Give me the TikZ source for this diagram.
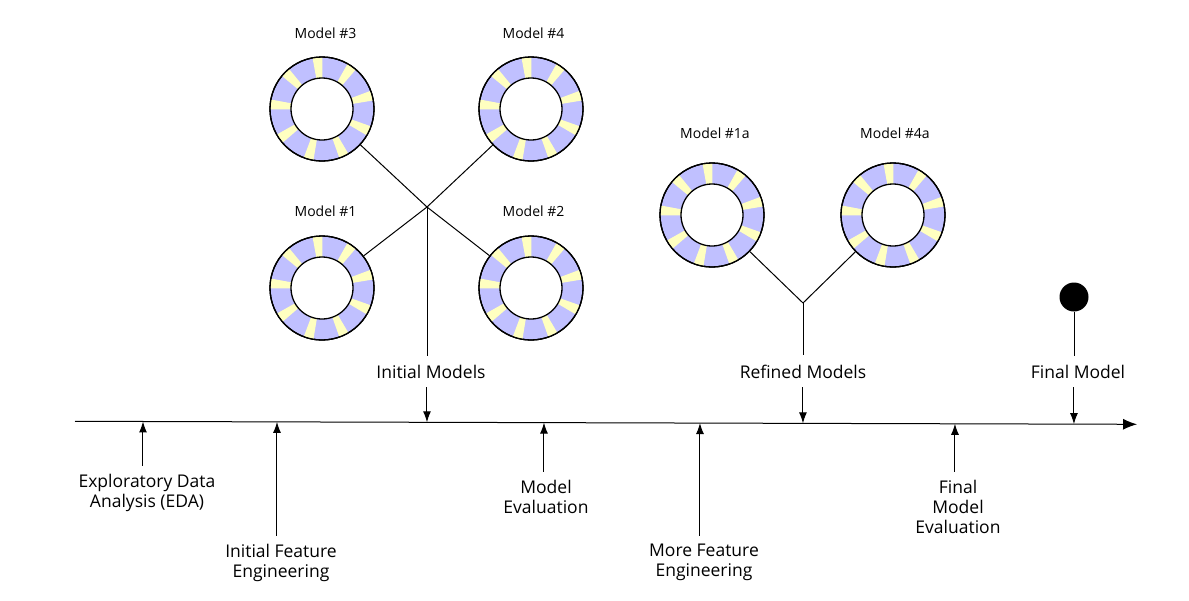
\documentclass[tikz,border=0pt]{standalone}
\usepackage{fontspec}
\setmainfont{Open Sans}
\usetikzlibrary{arrows.meta,calc}
\definecolor{ringblue}{RGB}{192,192,255}
\definecolor{ringyellow}{RGB}{255,255,192}
\tikzset{
  ringnode/.style={circle,draw,line width=1.3pt,fill=ringblue,minimum size=104pt,inner sep=0pt},
  modellabel/.style={font=\fontsize{14}{17}\selectfont,anchor=base,inner sep=0pt},
  midlabel/.style={font=\fontsize{17.5}{20}\selectfont,anchor=base,inner xsep=0pt,inner ysep=9pt},
  steplabel/.style={font=\fontsize{17.5}{20}\selectfont,align=center,anchor=north,inner xsep=0pt,inner ysep=8.5pt},
  conn/.style={line width=1pt},
  arr/.style={line width=1pt,-{Latex[length=11pt,width=8pt]}},
  axisarr/.style={line width=1pt,-{Latex[length=14pt,width=11pt]}},
}
\newcommand\drawring[2]{%
  \node[ringnode] (#1) at (#2) {};
  \begin{scope}[shift={(#2)}]
    \foreach \a in {95,55,15,-25,-65,-105,-145,175,135}{
      \fill[ringyellow] ({\a-5.5}:31) arc[start angle={\a-5.5},end angle={\a+5.5},radius=31]
        -- ({\a+5.5}:51.5) arc[start angle={\a+5.5},end angle={\a-5.5},radius=51.5] -- cycle;
    }
    \draw[line width=1.3pt] (0,0) circle[radius=52];
    \draw[line width=1.3pt,fill=white] (0,0) circle[radius=31];
  \end{scope}
}
\begin{document}
\begin{tikzpicture}[x=1pt,y=1pt]
\useasboundingbox (0,0) rectangle (1189,-600);
% rings
\drawring{m3}{322,-109}
\drawring{m4}{531,-109}
\drawring{m1}{322,-288}
\drawring{m2}{531,-288}
\drawring{m1a}{712,-215}
\drawring{m4a}{893,-215}
% ring labels
\node[modellabel] (l3) at (325.5,-38) {Model \#3};
\node[modellabel] (l4) at (533.5,-38) {Model \#4};
\node[modellabel] (l1) at (325.5,-216) {Model \#1};
\node[modellabel] (l2) at (533.5,-216) {Model \#2};
\node[modellabel] (l1a) at (715,-138) {Model \#1a};
\node[modellabel] (l4a) at (895,-138) {Model \#4a};
% junctions
\coordinate (j1) at (427,-207);
\coordinate (j2) at (803,-303);
\draw[conn] (m3) -- (j1);
\draw[conn] (m4) -- (j1);
\draw[conn] (m1) -- (j1);
\draw[conn] (m2) -- (j1);
\draw[conn] (m1a) -- (j2);
\draw[conn] (m4a) -- (j2);
% final model dot
\node[circle,fill=black,minimum size=29pt,inner sep=0pt] (fm) at (1074,-297) {};
% axis
\coordinate (axL) at (75,-421.3);
\coordinate (axR) at (1137,-424.3);
\draw[axisarr] (axL) -- (axR);
% axis points
\coordinate (pim) at ($(axL)!(427,-422)!(axR)$);
\coordinate (prm) at ($(axL)!(803,-422)!(axR)$);
\coordinate (pfm) at ($(axL)!(1074,-422)!(axR)$);
\coordinate (peda) at ($(axL)!(143,-422)!(axR)$);
\coordinate (pife) at ($(axL)!(277,-422)!(axR)$);
\coordinate (pme) at ($(axL)!(544,-422)!(axR)$);
\coordinate (pmfe) at ($(axL)!(700,-422)!(axR)$);
\coordinate (pfme) at ($(axL)!(955,-422)!(axR)$);
% upper labels
\node[midlabel] (im) at (431,-378) {Initial Models};
\node[midlabel] (rm) at (803,-378) {Refined Models};
\node[midlabel] (fml) at (1078,-378) {Final Model};
\draw[conn] (j1) -- (j1 |- im.north);
\draw[arr] (pim |- im.south) -- (pim);
\draw[conn] (j2) -- (j2 |- rm.north);
\draw[arr] (prm |- rm.south) -- (prm);
\draw[conn] (fm) -- (fm |- fml.north);
\draw[arr] (pfm |- fml.south) -- (pfm);
% lower labels
\node[steplabel] (eda) at (147,-465.5) {Exploratory Data\\Analysis (EDA)};
\node[steplabel] (ife) at (281,-535.5) {Initial Feature\\Engineering};
\node[steplabel] (me) at (546,-471.5) {Model\\Evaluation};
\node[steplabel] (mfe) at (704,-535.5) {More Feature\\Engineering};
\node[steplabel] (fme) at (958,-471.5) {Final\\Model\\Evaluation};
\draw[arr] (peda |- eda.north) -- (peda);
\draw[arr] (pife |- ife.north) -- (pife);
\draw[arr] (pme |- me.north) -- (pme);
\draw[arr] (pmfe |- mfe.north) -- (pmfe);
\draw[arr] (pfme |- fme.north) -- (pfme);
\end{tikzpicture}
\end{document}
